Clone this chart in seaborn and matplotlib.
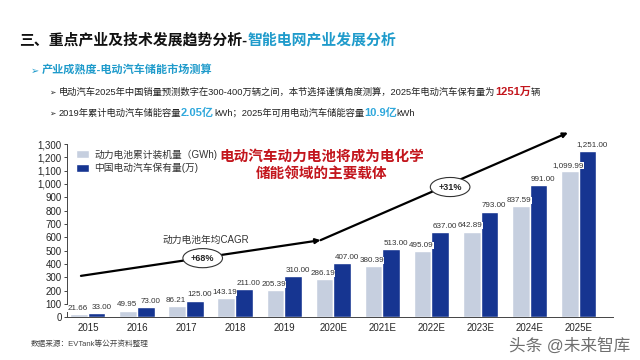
import matplotlib
matplotlib.use("Agg")
import matplotlib.pyplot as plt
import pandas as pd
import seaborn as sns

# data
years = ["2015", "2016", "2017", "2018", "2019", "2020E", "2021E",
         "2022E", "2023E", "2024E", "2025E"]
battery_gwh = [21.66, 49.95, 86.21, 143.19, 205.39, 286.19, 380.39,
               495.09, 642.89, 837.59, 1099.99]
ev_stock = [33.00, 73.00, 125.00, 211.00, 310.00, 407.00, 513.00,
            637.00, 793.00, 991.00, 1251.00]
series_names = ["动力电池累计装机量（GWh)", "中国电动汽车保有量(万)"]
yticks = list(range(0, 1301, 100))

light = "#c6cfdf"
dark = "#163591"
teal = "#1f9bcb"
red = "#c3161d"

sns.set_style("ticks")
plt.rcParams["font.family"] = ["Liberation Sans", "Noto Sans CJK SC", "DejaVu Sans"]

df = pd.DataFrame({
    "year": years * 2,
    "value": battery_gwh + ev_stock,
    "series": [series_names[0]] * len(years) + [series_names[1]] * len(years),
})

fig = plt.figure(figsize=(6.4, 3.6), dpi=100)
ax = fig.add_axes([0.105, 0.119, 0.853, 0.481])
sns.barplot(data=df, x="year", y="value", hue="series", palette=[light, dark],
            width=0.72, saturation=1, ax=ax)

ax.set_ylim(0, 1300)
ax.set_xlim(-0.42, 10.7)
ax.set_yticks(yticks)
ax.set_yticklabels([f"{v:,}" for v in yticks], fontsize=7)
ax.tick_params(axis="y", length=2, width=0.6, pad=2)
ax.tick_params(axis="x", length=0, labelsize=7, pad=4)
ax.set_xlabel("")
ax.set_ylabel("")
sns.despine(ax=ax)
for s in ["left", "bottom"]:
    ax.spines[s].set_color("#444444")
    ax.spines[s].set_linewidth(0.7)

# value labels: light ones with a white box drawn on top, dark ones nudged right
label_style = [dict(dx=-1, z=6, bbox=dict(boxstyle="square,pad=0.0", fc="white", ec="none")),
               dict(dx=3.5, z=5, bbox=None)]
for cont, vals, st in zip(ax.containers, [battery_gwh, ev_stock], label_style):
    for bar, v in zip(cont, vals):
        ax.annotate(f"{v:,.2f}", xy=(bar.get_x() + bar.get_width() / 2, bar.get_height()),
                    xytext=(st["dx"], 1.5), textcoords="offset points", ha="center",
                    va="bottom", fontsize=5.8, color="#333333", zorder=st["z"],
                    bbox=st["bbox"])

ax.legend(loc="upper left", bbox_to_anchor=(0.0, 1.02), frameon=False,
          fontsize=7, handlelength=1.3, handleheight=0.9, labelspacing=0.35,
          handletextpad=0.6, labelcolor="#333333")

# CAGR arrow
arrow = dict(arrowstyle="-|>", color="black", lw=1.6, mutation_scale=7,
             shrinkA=0, shrinkB=0)
ax.annotate("", xy=(4.74, 578), xytext=(-0.14, 310), arrowprops=arrow,
            annotation_clip=False)
ax.annotate("", xy=(9.78, 1385), xytext=(4.74, 578), arrowprops=arrow,
            annotation_clip=False)
ax.text(2.4, 578, "动力电池年均CAGR", ha="center", va="center", fontsize=7,
        color="#333333")
oval = dict(boxstyle="ellipse,pad=0.25", fc="white", ec="#333333", lw=0.8)
ax.text(2.34, 443, "+68%", ha="center", va="center", fontsize=6.5,
        fontweight="bold", bbox=oval, zorder=7)
ax.text(7.38, 977, "+31%", ha="center", va="center", fontsize=6.5,
        fontweight="bold", bbox=oval, zorder=7)

fig.text(0.502, 0.54, "电动汽车动力电池将成为电化学\n储能领域的主要载体",
         ha="center", va="center", fontsize=10.5, fontweight="bold",
         color=red, linespacing=1.4)


def put_line(x, y, parts):
    renderer = fig.canvas.get_renderer()
    for text, kw in parts:
        t = fig.text(x, y, text, va="baseline", **kw)
        bb = t.get_window_extent(renderer)
        x = bb.x1 / fig.bbox.width


put_line(0.03, 0.878, [
    ("三、重点产业及技术发展趋势分析-", dict(fontsize=10.7, fontweight="bold", color="#111111")),
    ("智能电网产业发展分析", dict(fontsize=10.7, fontweight="bold", color=teal)),
])
put_line(0.048, 0.795, [
    ("➢ ", dict(fontsize=7, color=teal)),
    ("产业成熟度-电动汽车储能市场测算", dict(fontsize=8, fontweight="bold", color=teal)),
])
put_line(0.078, 0.736, [
    ("➢ ", dict(fontsize=5.5, color="#222222")),
    ("电动汽车2025年中国销量预测数字在300-400万辆之间，本节选择谨慎角度测算，2025年电动汽车保有量为",
     dict(fontsize=6.7, color="#222222")),
    ("1251万", dict(fontsize=8, fontweight="bold", color=red)),
    ("辆", dict(fontsize=6.7, color="#222222")),
])
put_line(0.078, 0.678, [
    ("➢ ", dict(fontsize=5.5, color="#222222")),
    ("2019年累计电动汽车储能容量", dict(fontsize=6.7, color="#222222")),
    ("2.05亿", dict(fontsize=8, fontweight="bold", color="#2fa8dc")),
    ("kWh；2025年可用电动汽车储能容量", dict(fontsize=6.7, color="#222222")),
    ("10.9亿", dict(fontsize=8, fontweight="bold", color="#2fa8dc")),
    ("kWh", dict(fontsize=6.7, color="#222222")),
])

fig.text(0.048, 0.04, "数据来源：EVTank等公开资料整理", fontsize=5.5, color="#444444")
fig.text(0.985, 0.025, "头条 @未来智库", ha="right", fontsize=12, color="#555555",
         alpha=0.85)

fig.savefig("out.png", dpi=100)
